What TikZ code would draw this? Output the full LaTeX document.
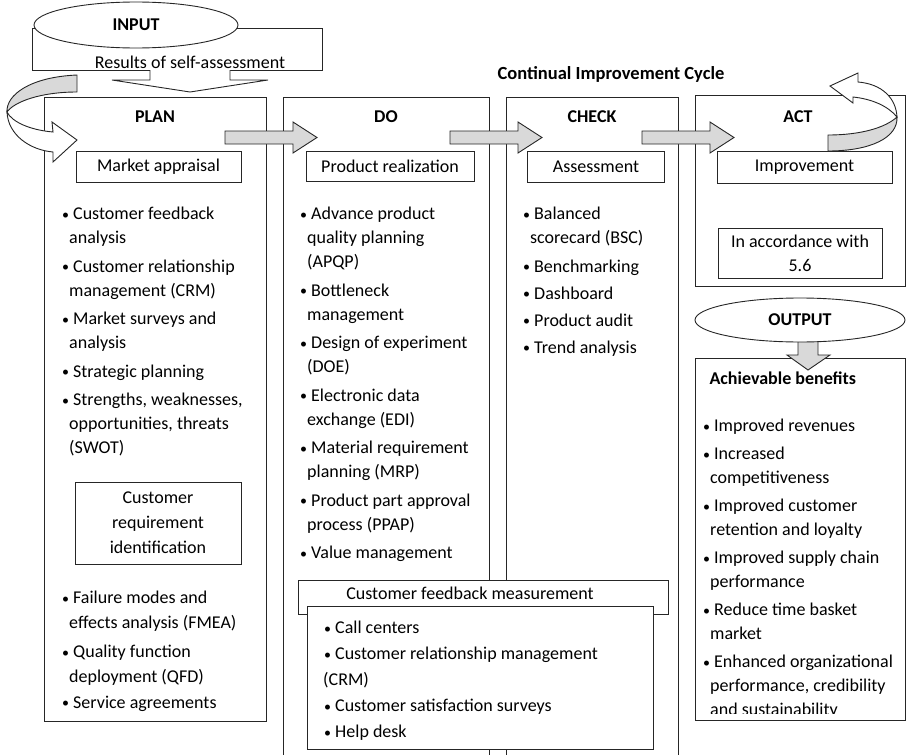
\documentclass[tikz,border=0pt]{standalone}
\usepackage{fontspec}
\setmainfont{Carlito}
\usetikzlibrary{shapes.geometric}
\newcommand{\bu}{\makebox[11pt][l]{\raisebox{0.5pt}{\fontsize{14}{14}\selectfont\textbullet}}}
\newcommand{\cn}{\hspace*{7pt}}

\begin{document}
\begin{tikzpicture}[x=1pt,y=-1pt,
    every node/.style={font=\fontsize{18}{24}\selectfont},
    ln/.style={draw=black!85,line width=0.9pt},
    hd/.style={font=\bfseries\fontsize{18}{24}\selectfont},
    lst/.style={anchor=north west,align=left,inner sep=0pt},
    sub/.style={ln,fill=white,inner sep=0pt,align=center},
    blk/.style={ln,fill=gray!30,line join=miter},
    wht/.style={ln,fill=white}]
  \useasboundingbox (0,0) rectangle (906,755);
  % input
  \draw[ln] (32,28) rectangle (322,70);
  \node[ellipse,wht,minimum width=204,minimum height=46,hd] (input) at (136,25) {INPUT};
  \node (results) at (190,62) {Results of self-assessment};
  \draw[wht] (150,70) -- (150,80) -- (112,80) -- (190,92) -- (268,80) -- (230,80) -- (230,70);
  \node[hd,font=\bfseries\fontsize{18.5}{24}\selectfont] (title) at (611,74) {Continual Improvement Cycle};

  % the four phases
  \draw[ln] (44,97) rectangle (266,721);
  \draw[ln] (283,755) -- (283,97) -- (489,97) -- (489,755);
  \draw[ln] (506,755) -- (506,97) -- (678,97) -- (678,755);
  \draw[ln] (695,95) rectangle (905,286);
  \node[hd] (plan) at (155,117) {PLAN};
  \node[hd] (do) at (386,117) {DO};
  \node[hd] (check) at (592,117) {CHECK};
  \node[hd] (act) at (798,117) {ACT};
  \foreach \x in {225,450,642}
    \draw[blk] (\x,131) -- ++(68,0) -- ++(0,-9) -- ++(24,15.5) -- ++(-24,15.5) -- ++(0,-9) -- ++(-68,0) -- cycle;

  \node[sub,minimum width=165,minimum height=31] (market) at (158.5,166.5) {Market appraisal};
  \node[sub,minimum width=168,minimum height=30] (prod) at (390,166) {Product realization};
  \node[sub,minimum width=137,minimum height=31] (assess) at (596,166.5) {Assessment};
  \node[sub,minimum width=175,minimum height=32] (improve) at (804.5,167) {Improvement};
  \node[sub,minimum width=164,minimum height=50] (accord) at (800,253) {In accordance with\\5.6};
  \node[sub,minimum width=166,minimum height=82,font=\fontsize{18}{25}\selectfont] (custreq) at (158,523) {Customer\\requirement\\identification};

  % lists
  \node[lst] (planlist) at (62,207) {\bu Customer feedback\\ \cn analysis\\[4.5pt]
    \bu Customer relationship\\ \cn management (CRM)\\[4.5pt]
    \bu Market surveys and\\ \cn analysis\\[4.5pt]
    \bu Strategic planning\\[4.5pt]
    \bu Strengths, weaknesses,\\ \cn opportunities, threats\\ \cn (SWOT)};
  \node[lst,font=\fontsize{18}{25}\selectfont] (reqlist) at (62,591) {\bu Failure modes and\\ \cn effects analysis (FMEA)\\[4pt]
    \bu Quality function\\ \cn deployment (QFD)\\[0.5pt]
    \bu Service agreements};
  \node[lst] (dolist) at (300,207) {\bu Advance product\\ \cn quality planning\\ \cn (APQP)\\[4.5pt]
    \bu Bottleneck\\ \cn management\\[4.5pt]
    \bu Design of experiment\\ \cn (DOE)\\[4.5pt]
    \bu Electronic data\\ \cn exchange (EDI)\\[4.5pt]
    \bu Material requirement\\ \cn planning (MRP)\\[4.5pt]
    \bu Product part approval\\ \cn process (PPAP)\\[4.5pt]
    \bu Value management};
  \node[lst] (checklist) at (523,207) {\bu Balanced\\ \cn scorecard (BSC)\\[4.5pt]
    \bu Benchmarking\\[3pt]
    \bu Dashboard\\[3pt]
    \bu Product audit\\[3pt]
    \bu Trend analysis};

  % customer feedback
  \draw[wht] (298,580) rectangle (668,614);
  \node (feedback) at (470,593) {Customer feedback measurement};
  \draw[wht] (307,606) rectangle (653,749);
  \node[lst,font=\fontsize{18}{26}\selectfont] (fblist) at (323,621) {\hspace*{1pt}\bu Call centers\\
    \hspace*{1pt}\bu Customer relationship management\\ (CRM)\\
    \hspace*{1pt}\bu Customer satisfaction surveys\\
    \hspace*{1pt}\bu Help desk};

  % output
  \draw[ln] (695,358) rectangle (905,720);
  \draw[blk] (798,336) -- (798,355) -- (787,355) -- (808,370) -- (830,355) -- (818,355) -- (818,336);
  \node[ellipse,wht,minimum width=210,minimum height=44,hd] (output) at (800,320) {OUTPUT};
  \node[hd,anchor=west] (benefit) at (706,378) {Achievable benefits};
  \begin{scope}
    \clip (695,358) rectangle (905,713);
    \node[lst] (benlist) at (703,419) {\bu Improved revenues\\[4pt]
      \bu Increased\\ \cn competitiveness\\[4pt]
      \bu Improved customer\\ \cn retention and loyalty\\[4pt]
      \bu Improved supply chain\\ \cn performance\\[4pt]
      \bu Reduce time basket\\ \cn market\\[4pt]
      \bu Enhanced organizational\\ \cn performance, credibility\\ \cn and sustainability};
  \end{scope}

  % curved arrows
  \draw[blk] (77,75) .. controls (30,77) and (6,95) .. (7,112) .. controls (14,102) and (40,92) .. (77,92) -- cycle;
  \draw[wht] (7,112) .. controls (8,135) and (30,150) .. (53,152) -- (53,162) -- (77,140) -- (52,122) -- (53,132) .. controls (30,130) and (12,122) .. (7,112) -- cycle;
  \draw[blk] (897,117) .. controls (898,138) and (870,151) .. (828,151) -- (828,135) .. controls (860,135) and (885,128) .. (897,117) -- cycle;
  \draw[wht] (897,117) .. controls (896,98) and (882,84) .. (858,82) -- (858,73) -- (830,86) -- (853,103) -- (853,97) .. controls (872,99) and (888,106) .. (897,117) -- cycle;
\end{tikzpicture}
\end{document}
